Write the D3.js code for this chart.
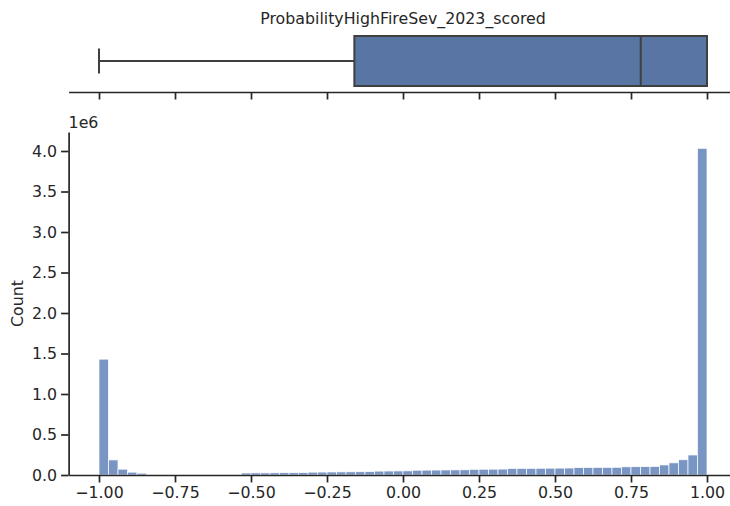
<!DOCTYPE html>
<html>
<head>
<meta charset="utf-8">
<script src="https://cdn.jsdelivr.net/npm/d3@7"></script>
<style>
  body { margin: 0; background: #fff; }
  svg { display: block; font-family: "DejaVu Sans", sans-serif; }
</style>
</head>
<body>
<svg width="730" height="506"></svg>
<script>
const svg = d3.select('svg');

// histogram: 64 bins from -1 to 1, counts in millions
const binLo = -1, binHi = 1;
const contagens = [
    1.43, 0.186, 0.072, 0.035, 0.022,
    0, 0, 0, 0, 0, 0, 0, 0, 0, 0,
    0.025, 0.026, 0.026, 0.027, 0.028, 0.028, 0.029,
    0.035, 0.036, 0.037, 0.038, 0.039, 0.040, 0.041,
    0.048, 0.049, 0.050, 0.051,
    0.059, 0.060, 0.061, 0.062, 0.063, 0.064,
    0.070, 0.071, 0.072, 0.073,
    0.080, 0.081, 0.082, 0.083, 0.084, 0.085, 0.086,
    0.091, 0.092, 0.093, 0.094, 0.095,
    0.101, 0.102, 0.103, 0.104,
    0.124, 0.150, 0.188, 0.247, 4.033
];
const xTicks = [-1, -0.75, -0.5, -0.25, 0, 0.25, 0.5, 0.75, 1];
const yTicks = [0, 0.5, 1, 1.5, 2, 2.5, 3, 3.5, 4];

// boxplot summary
const caixa = { min: -1, q1: -0.16, mediana: 0.782, q3: 1, max: 1 };
const titulo = 'ProbabilityHighFireSev_2023_scored';

const cor = '#262626';
const fonte = 15.8;
const marg = { esquerda: 68.6, direita: 737.4 };

const xEscala = d3.scaleLinear()
    .domain([-1.1, 1.1])
    .range([marg.esquerda, marg.direita]);

const largBin = (binHi - binLo) / contagens.length;
const bins = contagens.map((c, i) => ({ x0: binLo + i * largBin, x1: binLo + (i + 1) * largBin, c }));

const yEscala = d3.scaleLinear()
    .domain([0, d3.max(contagens) * 1.05])
    .range([475, 132]);

const fmtX = d => d3.format('.2f')(d).replace('-', '\u2212');

// ---- top: boxplot ----
const topo = svg.append('g');
const eixoTopo = topo.append('g')
    .attr('transform', 'translate(0,92)')
    .call(d3.axisBottom(xEscala).tickValues(xTicks).tickSize(7.5).tickSizeOuter(0).tickFormat(''));
eixoTopo.select('.domain').attr('stroke', cor).attr('stroke-width', 1.7);
eixoTopo.selectAll('.tick line').attr('stroke', cor).attr('stroke-width', 1.7);

topo.append('text')
    .attr('x', (marg.esquerda + marg.direita) / 2)
    .attr('y', 24)
    .attr('text-anchor', 'middle')
    .attr('font-size', fonte)
    .attr('fill', cor)
    .text(titulo);

const cy = 61, hCaixa = 50;
const linha = '#3f3f3f';
topo.append('line')
    .attr('x1', xEscala(caixa.min)).attr('x2', xEscala(caixa.q1))
    .attr('y1', cy).attr('y2', cy)
    .attr('stroke', linha).attr('stroke-width', 2);
topo.append('line')
    .attr('x1', xEscala(caixa.min)).attr('x2', xEscala(caixa.min))
    .attr('y1', cy - hCaixa / 4).attr('y2', cy + hCaixa / 4)
    .attr('stroke', linha).attr('stroke-width', 2);
topo.append('rect')
    .attr('x', xEscala(caixa.q1))
    .attr('y', cy - hCaixa / 2)
    .attr('width', xEscala(caixa.q3) - xEscala(caixa.q1))
    .attr('height', hCaixa)
    .attr('fill', '#5975a4')
    .attr('stroke', linha).attr('stroke-width', 2);
topo.append('line')
    .attr('x1', xEscala(caixa.mediana)).attr('x2', xEscala(caixa.mediana))
    .attr('y1', cy - hCaixa / 2).attr('y2', cy + hCaixa / 2)
    .attr('stroke', linha).attr('stroke-width', 2);

// ---- bottom: histogram ----
const g = svg.append('g');

g.selectAll('rect').data(bins.filter(b => b.c > 0))
    .enter().append('rect')
        .attr('x', d => xEscala(d.x0))
        .attr('width', d => xEscala(d.x1) - xEscala(d.x0))
        .attr('y', d => yEscala(d.c))
        .attr('height', d => yEscala(0) - yEscala(d.c))
        .attr('fill', '#7995c4')
        .attr('stroke', '#fff')
        .attr('stroke-width', 0.7);

const eixoX = g.append('g')
    .attr('transform', `translate(0,${yEscala(0)})`)
    .call(d3.axisBottom(xEscala).tickValues(xTicks).tickSize(7.5).tickSizeOuter(0).tickPadding(4).tickFormat(fmtX));
const eixoY = g.append('g')
    .attr('transform', `translate(${marg.esquerda},0)`)
    .call(d3.axisLeft(yEscala).tickValues(yTicks).tickSize(7.5).tickSizeOuter(0).tickPadding(4).tickFormat(d3.format('.1f')));

[eixoX, eixoY].forEach(e => {
    e.select('.domain').attr('stroke', cor).attr('stroke-width', 1.7);
    e.selectAll('.tick line').attr('stroke', cor).attr('stroke-width', 1.7);
    e.selectAll('.tick text').attr('fill', cor).attr('font-size', fonte).attr('font-family', 'DejaVu Sans');
});

g.append('text')
    .attr('x', marg.esquerda)
    .attr('y', 128)
    .attr('font-size', fonte)
    .attr('fill', cor)
    .text('1e6');

g.append('text')
    .attr('transform', `translate(23,${(yEscala(0) + yEscala.range()[1]) / 2}) rotate(-90)`)
    .attr('text-anchor', 'middle')
    .attr('font-size', fonte)
    .attr('fill', cor)
    .text('Count');
</script>
</body>
</html>
